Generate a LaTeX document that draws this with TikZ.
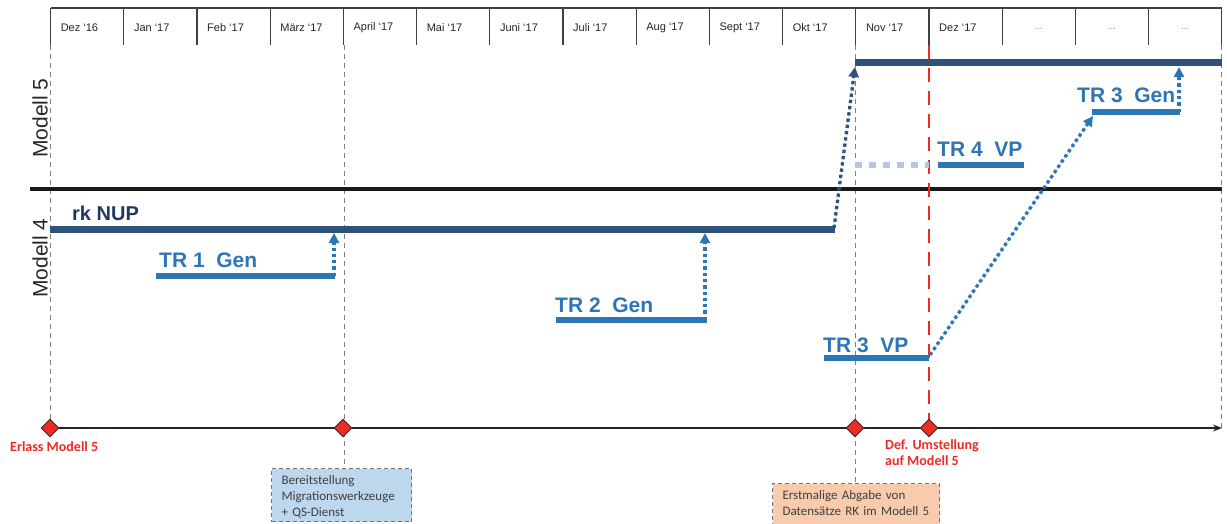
\documentclass[tikz,border=0pt]{standalone}
\usepackage{fontspec}
\setmainfont{Liberation Sans}
\newfontfamily\calfont{Carlito}
\usetikzlibrary{arrows.meta,shapes.geometric}
\definecolor{dkbar}{HTML}{2F5279}
\definecolor{mdbar}{HTML}{2E75B6}
\definecolor{ltbar}{HTML}{B4C7E7}
\definecolor{rkred}{HTML}{EE2A24}
\definecolor{boxblue}{HTML}{BDD7EE}
\definecolor{boxpeach}{HTML}{F8CBAD}
\definecolor{labnavy}{HTML}{1F3864}
\definecolor{txtgray}{HTML}{404040}
\tikzset{
  hdr/.style={draw=txtgray, line width=1.1pt},
  month/.style={inner sep=0pt, font=\fontsize{11}{13}\selectfont, text=black!85},
  dots/.style={inner sep=0pt, font=\fontsize{10}{12}\selectfont, text=black!45},
  modlab/.style={inner sep=0pt, rotate=90, font=\fontsize{21}{24}\selectfont, text=black!85},
  gridv/.style={draw=black!50, line width=0.8pt, dash pattern=on 5pt off 4pt},
  reddash/.style={draw=rkred, line width=2.6pt, dash pattern=on 14pt off 9pt},
  darkbar/.style={draw=dkbar, line width=7pt},
  medbar/.style={draw=mdbar, line width=6.5pt},
  lightbar/.style={draw=ltbar, line width=6.5pt, dash pattern=on 7pt off 7pt},
  barlab/.style={inner sep=0pt, anchor=base west, text=mdbar, font=\fontsize{21}{24}\selectfont\bfseries},
  dotarrow/.style={line width=3.3pt, dash pattern=on 3.3pt off 3pt, -{Triangle[length=10pt,width=10pt]}},
  milestone/.style={diamond, draw=black!80, line width=0.9pt, fill=rkred, minimum width=18pt, minimum height=18pt, inner sep=0pt},
  redlab/.style={inner sep=0pt, text=rkred, align=left, font=\calfont\fontsize{14}{16}\selectfont\bfseries},
  infobox/.style={anchor=north west, draw=black!55, line width=1pt, dash pattern=on 4pt off 3pt, align=left, text=txtgray,
    font=\calfont\fontsize{13}{16}\selectfont, inner xsep=10pt, inner ysep=7pt, text depth=30pt}
}
\begin{document}
\begin{tikzpicture}[x=1pt,y=-1pt]
\useasboundingbox (0,0) rectangle (1227,524);
\clip (0,0) rectangle (1227,524);
\fill[white] (0,0) rectangle (1227,524);

% header
\draw[hdr] (50.6,8) -- (1221.8,8);
\foreach \k in {0,...,16} \draw[hdr] ({50.6+73.2*\k},8) -- ({50.6+73.2*\k},45);
\foreach \n [count=\i from 0] in {Dez ‘16,Jan ‘17,Feb ‘17,März ‘17,April ‘17,Mai ‘17,Juni ‘17,Juli ‘17,Aug ‘17,Sept ‘17,Okt ‘17,Nov ‘17,Dez ‘17}
  \node[month, anchor=west] (mon\i) at ({60.6+73.2*\i},28) {\n};
\foreach \i in {13,14,15}
  \node[dots] (mon\i) at ({50.6+73.2*\i+36.6},29) {...};

% model labels
\node[modlab] (mod5) at (40,118) {Modell 5};
\node[modlab] (mod4) at (40,258) {Modell 4};

% grid dashed lines
\draw[gridv] (50,45) -- (50,419);
\draw[gridv] (344,45) -- (344,468);
\draw[gridv] (855,45) -- (855,483);
\draw[gridv] (1221,45) -- (1221,428);

% separator
\draw[draw=black!90, line width=4pt] (30,189.5) -- (1222,189.5);

% red dashed line
\draw[reddash] (929,45) -- (929,428);

% bars
\draw[darkbar] (50,229) coordinate (rkA) -- (835,229) coordinate (rkB);
\node[barlab, text=labnavy, font=\fontsize{20}{24}\selectfont\bfseries] (rklab) at (72,221) {rk NUP};
\draw[darkbar] (855,63) coordinate (m5A) -- (1222,63) coordinate (m5B);

\draw[medbar] (156,276) coordinate (t1A) -- (335,276) coordinate (t1B);
\node[barlab] (t1lab) at (159,267) {TR~1~~Gen};

\draw[medbar] (556,320) coordinate (t2A) -- (707,320) coordinate (t2B);
\node[barlab] (t2lab) at (555,312) {TR~2~~Gen};

\draw[medbar] (824,358) coordinate (t3vA) -- (929,358) coordinate (t3vB);
\node[barlab] (t3vlab) at (823,352) {TR~3~~VP};

\draw[lightbar] (855,165) coordinate (t4L) -- (929,165);
\draw[medbar] (938,165) coordinate (t4A) -- (1024,165) coordinate (t4B);
\node[barlab] (t4lab) at (937,157) {TR~4~~VP};

\draw[medbar] (1092,112) coordinate (t3gA) -- (1180,112) coordinate (t3gB);
\node[barlab] (t3glab) at (1077,103) {TR~3~~Gen};

% arrow targets
\coordinate (rkEnd) at (834,228);
\coordinate (m5in) at (855,67);
\coordinate (t1up) at (334,276);
\coordinate (t1to) at (334,233);
\coordinate (t2up) at (705,320);
\coordinate (t2to) at (705,233);
\coordinate (t3vEnd) at (930,355);
\coordinate (t3gIn) at (1093,116);
\coordinate (t3gEnd) at (1179,112);
\coordinate (m5in2) at (1179,67);

% dotted arrows
\draw[dotarrow, draw=dkbar, fill=dkbar] (rkEnd) -- (m5in);
\draw[dotarrow, draw=mdbar, fill=mdbar] (t1up) -- (t1to);
\draw[dotarrow, draw=mdbar, fill=mdbar] (t2up) -- (t2to);
\draw[dotarrow, draw=mdbar, fill=mdbar] (t3vEnd) -- (t3gIn);
\draw[dotarrow, draw=mdbar, fill=mdbar] (t3gEnd) -- (m5in2);

% timeline
\coordinate (tlS) at (50,428);
\coordinate (tlE) at (1222,428);
\draw[draw=black!85, line width=1.3pt, -{Stealth[length=9pt,width=7pt]}] (tlS) -- (tlE);
\node[milestone] (ms1) at (50,428) {};
\node[milestone] (ms2) at (343,428) {};
\node[milestone] (ms3) at (855,428) {};
\node[milestone] (ms4) at (929,428) {};

\node[redlab, anchor=west] (lab1) at (10,447) {Erlass Modell 5};
\node[redlab, anchor=north west] (lab2) at (885,439) {Def. Umstellung\\auf Modell 5};

% info boxes
\node[infobox, fill=boxblue, text width=120pt] (box1) at (271,468) {Bereitstellung\\Migrationswerkzeuge\\+ QS-Dienst};
\node[infobox, fill=boxpeach, text width=147pt] (box2) at (772,483) {Erstmalige Abgabe von\\Datensätze RK im Modell 5};
\end{tikzpicture}
\end{document}
